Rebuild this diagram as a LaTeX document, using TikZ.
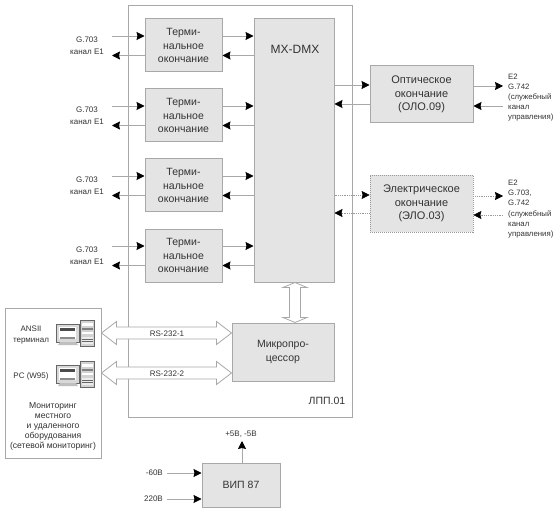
\documentclass[tikz,border=0pt]{standalone}
\usepackage{fontspec}
\setmainfont{Liberation Sans}
\usetikzlibrary{arrows.meta,calc}
\definecolor{boxfill}{HTML}{E4E4E4}
\definecolor{boxline}{HTML}{A8A8A8}
\definecolor{txt}{HTML}{333333}
\tikzset{
  blockbox/.style={draw=boxline,line width=1pt,fill=boxfill,inner sep=0pt,text=txt,align=center,font=\fontsize{10.5}{13.5}\selectfont},
  bigbox/.style={blockbox,font=\fontsize{11}{13.5}\selectfont},
  dotbox/.style={bigbox,draw=gray!80,densely dotted,line width=.7pt},
  frame/.style={draw=boxline,line width=1pt},
  lab/.style={inner sep=0pt,text=txt,align=center,font=\fontsize{8}{10.2}\selectfont},
  link/.style={draw=boxline,line width=.8pt,-{Stealth[black,length=8pt,width=8pt,inset=1pt]}},
  dotlink/.style={link,densely dotted,draw=gray!80,line width=.6pt},
  wide/.style={draw=boxline,line width=.8pt,fill=white}
}
\newcommand{\hwide}[2]{%
  \path[wide] (#1) -- ++(15,-11.5) -- ++(0,5.5) -- ($(#2)+(-15,-6)$) -- ++(0,-5.5) -- (#2)
    -- ++(-15,11.5) -- ++(0,-5.5) -- ($(#1)+(15,6)$) -- ++(0,5.5) -- cycle;}
\newcommand{\computer}[2]{%
  \begin{scope}[shift={(#1,#2)}]
    % monitor
    \fill[gray!30] (56,4) rectangle (79,22);
    \draw[black!60,line width=.5pt] (56,4) rectangle (79,22);
    \fill[white] (59,7) rectangle (76,19);
    \fill[black!70] (60,8) rectangle (75,11);
    \fill[black!45] (60,17) rectangle (75,18.5);
    \fill[gray!50] (60,22) -- (76,22) -- (78,25) -- (58,25) -- cycle;
    % tower
    \fill[gray!35] (80,0) rectangle (94.5,26);
    \draw[black!60,line width=.5pt] (80,0) rectangle (94.5,26);
    \fill[white] (82,3) rectangle (92.5,6);
    \fill[black!50] (82,8) rectangle (92.5,9.5);
    \fill[white] (82,12) rectangle (92.5,14);
    \fill[gray!15] (82,17) rectangle (92.5,24);
    \draw[black!60,line width=.4pt] (82,19) -- (92.5,19) (82,21.5) -- (92.5,21.5);
  \end{scope}}
\begin{document}
\begin{tikzpicture}[x=1pt,y=-1pt]
\useasboundingbox (0,0) rectangle (560,516);
\fill[white] (0,0) rectangle (560,516);

% frames
\node[frame,minimum width=224pt,minimum height=411pt,inner sep=0pt] (lpp) at (240,211.5) {};
\node[frame,fill=white,minimum width=96pt,minimum height=150pt,inner sep=0pt] (mon) at (53,383) {};

% main blocks
\foreach \n/\yy in {1/45.5,2/115.5,3/185.5,4/255.5}{
  \node[blockbox,minimum width=77pt,minimum height=53pt] (t\n) at (183.5,\yy) {Терми-\\нальное\\окончание};
}
\node[blockbox,minimum width=80pt,minimum height=263pt] (mx) at (294,150.5) {};
\node[inner sep=0pt,text=txt,font=\fontsize{12}{12}\selectfont] (mxl) at (295,49) {MX-DMX};
\node[blockbox,minimum width=102pt,minimum height=58pt] (cpu) at (283,352) {Микропро-\\цессор};
\node[bigbox,minimum width=103pt,minimum height=57pt] (opt) at (421.5,94.5) {Оптическое\\окончание\\(ОЛО.09)};
\node[dotbox,minimum width=103pt,minimum height=57pt] (ele) at (421.5,203.5) {Электрическое\\окончание\\(ЭЛО.03)};
\node[blockbox,minimum width=78pt,minimum height=44pt] (vip) at (241,485) {ВИП 87};
\node[inner sep=0pt,text=txt,font=\fontsize{10.5}{12}\selectfont] (lppl) at (327,401) {ЛПП.01};

% left channels
\foreach \n/\yy in {1/45.5,2/115.5,3/185.5,4/255.5}{
  \node[lab,anchor=center,font=\fontsize{8}{11.5}\selectfont] (c\n) at (87,\yy) {G.703\\канал E1};
  \coordinate (ci\n) at (112,\yy-9.5);
  \coordinate (co\n) at (112,\yy+10);
  \draw[link] (ci\n) -- (t\n.west |- ci\n);
  \draw[link] (t\n.west |- co\n) -- (co\n);
  \draw[link] (t\n.east |- ci\n) -- (mx.west |- ci\n);
  \draw[link] (mx.west |- co\n) -- (t\n.east |- co\n);
}

% optical
\coordinate (oi) at (0,85);
\coordinate (oo) at (0,104);
\draw[link] (mx.east |- oi) -- (opt.west |- oi);
\draw[link] (opt.west |- oo) -- (mx.east |- oo);
\coordinate (ora) at (503,86);
\coordinate (orb) at (503,106);
\draw[link] (opt.east |- ora) -- (ora);
\draw[link] (orb) -- (opt.east |- orb);
\node[lab,anchor=west,align=left,font=\fontsize{7.8}{10.2}\selectfont] (ol) at (508,97.5) {E2\\G.742\\(служебный\\канал\\управления)};

% electrical
\coordinate (ei) at (0,195);
\coordinate (eo) at (0,213);
\draw[dotlink] (mx.east |- ei) -- (ele.west |- ei);
\draw[dotlink] (ele.west |- eo) -- (mx.east |- eo);
\coordinate (era) at (503,196);
\coordinate (erb) at (503,215);
\draw[dotlink] (ele.east |- era) -- (era);
\draw[dotlink] (erb) -- (ele.east |- erb);
\node[lab,anchor=west,align=left,font=\fontsize{7.8}{10.2}\selectfont] (el) at (508,209) {E2\\G.703,\\G.742\\(служебный\\канал\\управления)};

% MX - CPU wide arrow
\coordinate (va) at (295,0 |- mx.south);
\coordinate (vb) at (va |- cpu.north);
\path[wide] (va) -- ++(-12,5) -- ++(6.5,0) -- ($(vb)+(-5.5,-5)$) -- ++(-6.5,0) -- (vb)
  -- ++(12,-5) -- ++(-6.5,0) -- ($(va)+(5.5,5)$) -- ++(6.5,0) -- cycle;

% RS-232
\coordinate (r1) at (mon.east |- 0,333);
\coordinate (r1e) at (cpu.west |- 0,333);
\coordinate (r2) at (mon.east |- 0,373);
\coordinate (r2e) at (cpu.west |- 0,373);
\hwide{r1}{r1e}
\hwide{r2}{r2e}
\node[lab,font=\fontsize{8}{8}\selectfont] (rs1) at (167,334) {RS-232-1};
\node[lab,font=\fontsize{8}{8}\selectfont] (rs2) at (167,374) {RS-232-2};

% monitoring box contents
\computer{0}{320}
\computer{0}{361}
\node[lab] (ans) at (31,335) {ANSII\\терминал};
\node[lab] (pc) at (31,376) {PC (W95)};
\node[lab,font=\fontsize{8.6}{10.2}\selectfont] (mt) at (53,426.5) {Мониторинг\\местного\\и удаленного\\оборудования\\(сетевой мониторинг)};

% power
\node[lab] (p5) at (241,434) {+5В, -5В};
\coordinate (pu) at (242,441);
\draw[link] (vip.north -| pu) -- (pu);
\node[lab,anchor=east] (m60) at (163,473) {-60В};
\node[lab,anchor=east] (p220) at (163,499) {220В};
\coordinate (pa) at (167,473);
\coordinate (pb) at (167,499);
\draw[link] (pa) -- (vip.west |- pa);
\draw[link] (pb) -- (vip.west |- pb);
\end{tikzpicture}
\end{document}
